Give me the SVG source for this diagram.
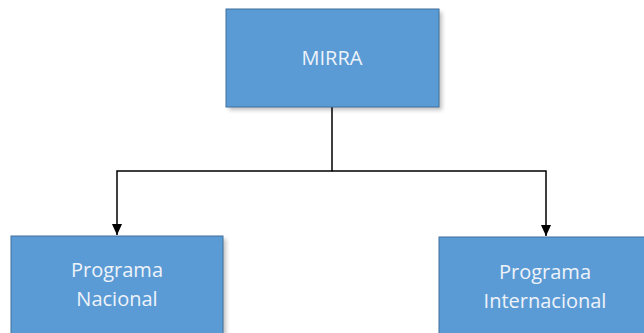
<svg xmlns="http://www.w3.org/2000/svg" width="644" height="333" viewBox="0 0 644 333">
<style>
.box{fill:#5b9bd5;stroke:#41719c;stroke-width:1}
.sh{fill:#000;opacity:0.25;filter:url(#blur)}
.lbl{font-family:"Open Sans","Noto Sans",sans-serif;font-size:20px;font-weight:500;fill:#eef3fa;text-anchor:middle}
.con{fill:none;stroke:#000;stroke-width:1.5}
</style>
<defs>
<filter id="blur" x="-10%" y="-10%" width="120%" height="120%"><feGaussianBlur stdDeviation="2"/></filter>
<marker id="arr" viewBox="0 0 12 11" refX="12" refY="5.5" markerWidth="11" markerHeight="12" markerUnits="userSpaceOnUse" orient="auto"><path d="M0,0 L12,5.5 L0,11 z" fill="#000"/></marker>
</defs>
<rect width="644" height="333" fill="#fff"/>
<g id="connectors">
<path class="con" d="M332,107 V171 H117 V235" marker-end="url(#arr)"/>
<path class="con" d="M332,171 H546 V236" marker-end="url(#arr)"/>
</g>
<g id="mirra">
<rect class="sh" x="229" y="12" width="213" height="98"/>
<rect class="box" x="226" y="9" width="213" height="98"/>
<text class="lbl" x="332" y="65">MIRRA</text>
</g>
<g id="nacional">
<rect class="sh" x="14" y="239" width="212" height="100"/>
<rect class="box" x="11" y="236" width="212" height="100"/>
<text class="lbl" x="117" y="277">Programa</text>
<text class="lbl" x="117" y="306">Nacional</text>
</g>
<g id="internacional">
<rect class="sh" x="442" y="240" width="210" height="100"/>
<rect class="box" x="439" y="237" width="210" height="100"/>
<text class="lbl" x="545" y="279">Programa</text>
<text class="lbl" x="545" y="308">Internacional</text>
</g>
</svg>
